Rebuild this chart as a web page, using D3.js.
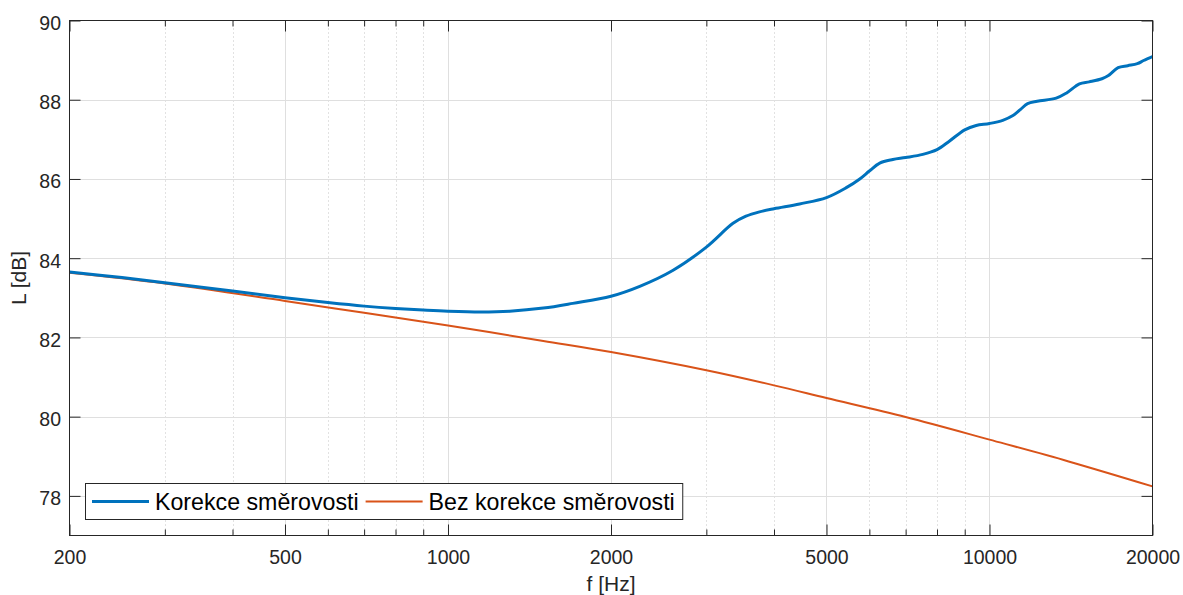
<!DOCTYPE html>
<html>
<head>
<meta charset="utf-8">
<script src="https://cdn.jsdelivr.net/npm/d3@7"></script>
<style>
  html, body { margin: 0; padding: 0; background: #fff; overflow: hidden; }
  svg { display: block; font-family: "Liberation Sans", Arial, Helvetica, sans-serif; }
</style>
</head>
<body>
<svg id="chart" width="1183" height="595"></svg>
<script>
// Sound level vs. frequency, with and without directivity correction
const freqKorekce = [200, 250, 300, 400, 500, 600, 700, 800, 900, 1000, 1150, 1300, 1500, 1700,
  2000, 2260, 2600, 3000, 3360, 3550, 3760, 4000, 4460, 5000, 5440, 5760, 6000, 6270, 6630,
  7000, 7530, 8000, 8440, 9000, 9450, 10000, 10580, 11050, 11400, 11760, 12250, 13280, 13880,
  14660, 15280, 16130, 16580, 17280, 18000, 18750, 19260, 20000];
const levelKorekce = [83.65, 83.51, 83.38, 83.17, 83.00, 82.88, 82.79, 82.73, 82.69, 82.66, 82.64,
  82.66, 82.74, 82.86, 83.04, 83.29, 83.69, 84.28, 84.88, 85.06, 85.17, 85.25, 85.37, 85.53,
  85.78, 86.00, 86.20, 86.40, 86.49, 86.54, 86.62, 86.74, 86.96, 87.24, 87.35, 87.40, 87.48,
  87.60, 87.75, 87.90, 87.96, 88.04, 88.17, 88.40, 88.45, 88.53, 88.61, 88.81, 88.86, 88.91,
  88.99, 89.09];

const freqBez = [200, 300, 500, 700, 1000, 1500, 2000, 3000, 4000, 5000, 7000, 10000, 14000, 20000];
const levelBez = [83.63, 83.36, 82.92, 82.62, 82.30, 81.91, 81.63, 81.17, 80.79, 80.47, 79.99, 79.42,
  78.87, 78.24];

const xTickValues = [200, 500, 1000, 2000, 5000, 10000, 20000];
const xMinorValues = [300, 400, 600, 700, 800, 900, 3000, 4000, 6000, 7000, 8000, 9000];
const yTickValues = [78, 80, 82, 84, 86, 88, 90];

const seriesNames = ["Korekce směrovosti", "Bez korekce směrovosti"];
const seriesColors = ["#0072BD", "#D95319"];
const seriesWidths = [3, 2];

const xLabel = "f [Hz]";
const yLabel = "L [dB]";

const svg = d3.select("#chart");
const plotLeft = 69.5, plotRight = 1152.5, plotTop = 20.5, plotBottom = 535.5;
const axisColor = "#262626";

const x = d3.scaleLog().domain([200, 20000]).range([plotLeft, plotRight]);
const y = d3.scaleLinear().domain([77, 90]).range([plotBottom, plotTop]);

// grid: minor (dotted) then major (solid)
const grid = svg.append("g");
grid.selectAll("line.minor").data(xMinorValues).join("line")
  .attr("x1", d => Math.round(x(d)) + 0.5).attr("x2", d => Math.round(x(d)) + 0.5)
  .attr("y1", plotTop).attr("y2", plotBottom)
  .attr("stroke", "#c4c4c4").attr("stroke-width", 1).attr("stroke-dasharray", "1,3");
grid.selectAll("line.mx").data(xTickValues.slice(1, -1)).join("line")
  .attr("x1", d => Math.round(x(d)) + 0.5).attr("x2", d => Math.round(x(d)) + 0.5)
  .attr("y1", plotTop).attr("y2", plotBottom)
  .attr("stroke", "#dfdfdf").attr("stroke-width", 1);
grid.selectAll("line.my").data(yTickValues.slice(0, -1)).join("line")
  .attr("x1", plotLeft).attr("x2", plotRight)
  .attr("y1", d => Math.round(y(d)) + 0.5).attr("y2", d => Math.round(y(d)) + 0.5)
  .attr("stroke", "#dfdfdf").attr("stroke-width", 1);

// axes through d3 (ticks drawn inward, no domain path)
const majorLen = 11, minorLen = 6;
function styleAxis(g) {
  g.select(".domain").remove();
  g.selectAll(".tick line").attr("stroke", axisColor);
}
const fmt = d3.format("d");
const xBottom = svg.append("g").attr("transform", `translate(0,${plotBottom})`)
  .call(d3.axisBottom(x).tickValues(xTickValues).tickFormat(fmt).tickSizeInner(-majorLen).tickSizeOuter(0).tickPadding(0))
  .call(styleAxis);
xBottom.selectAll(".tick text").attr("fill", axisColor).attr("font-size", 19.5)
  .attr("y", 28.5).attr("dy", 0);
svg.append("g").attr("transform", `translate(0,${plotBottom})`)
  .call(d3.axisBottom(x).tickValues(xMinorValues).tickFormat("").tickSizeInner(-minorLen).tickSizeOuter(0))
  .call(styleAxis);
svg.append("g").attr("transform", `translate(0,${plotTop})`)
  .call(d3.axisTop(x).tickValues(xTickValues).tickFormat("").tickSizeInner(-majorLen).tickSizeOuter(0))
  .call(styleAxis);
svg.append("g").attr("transform", `translate(0,${plotTop})`)
  .call(d3.axisTop(x).tickValues(xMinorValues).tickFormat("").tickSizeInner(-minorLen).tickSizeOuter(0))
  .call(styleAxis);

const yLeft = svg.append("g").attr("transform", `translate(${plotLeft},0)`)
  .call(d3.axisLeft(y).tickValues(yTickValues).tickFormat(fmt).tickSizeInner(-majorLen).tickSizeOuter(0).tickPadding(0))
  .call(styleAxis);
yLeft.selectAll(".tick text").attr("fill", axisColor).attr("font-size", 19.5)
  .attr("x", -8.5).attr("dy", 9).attr("text-anchor", "end");
svg.append("g").attr("transform", `translate(${plotRight},0)`)
  .call(d3.axisRight(y).tickValues(yTickValues).tickFormat("").tickSizeInner(-majorLen).tickSizeOuter(0))
  .call(styleAxis);

// data lines, clipped to the axes box
svg.append("clipPath").attr("id", "plotArea").append("rect")
  .attr("x", plotLeft).attr("y", plotTop - 2).attr("width", plotRight - plotLeft).attr("height", plotBottom - plotTop + 4);
const line = d3.line().x(d => x(d[0])).y(d => y(d[1])).curve(d3.curveCatmullRom.alpha(0.5));
const seriesData = [
  d3.zip(freqKorekce, levelKorekce),
  d3.zip(freqBez, levelBez)
];
const plot = svg.append("g").attr("clip-path", "url(#plotArea)");
[1, 0].forEach(i => {
  plot.append("path").datum(seriesData[i])
    .attr("d", line).attr("fill", "none")
    .attr("stroke", seriesColors[i]).attr("stroke-width", seriesWidths[i])
    .attr("stroke-linejoin", "round");
});

// axes box
svg.append("rect").attr("x", plotLeft).attr("y", plotTop).attr("width", plotRight - plotLeft).attr("height", plotBottom - plotTop)
  .attr("fill", "none").attr("stroke", axisColor).attr("stroke-width", 1);

// axis titles
svg.append("text").attr("x", (plotLeft + plotRight) / 2).attr("y", 591)
  .attr("text-anchor", "middle").attr("font-size", 21).attr("fill", axisColor).text(xLabel);
svg.append("text").attr("transform", `translate(26,${(plotTop + plotBottom) / 2}) rotate(-90)`)
  .attr("text-anchor", "middle").attr("font-size", 21).attr("fill", axisColor).text(yLabel);

// legend
const legend = svg.append("g");
const legBox = legend.append("rect").attr("fill", "#fff").attr("stroke", axisColor).attr("stroke-width", 1);
const legLeft = 85.5, legTop = 483.5, legHeight = 36, legMid = legTop + legHeight / 2;
let cursor = legLeft + 6.5;
seriesNames.forEach((name, i) => {
  legend.append("line").attr("x1", cursor).attr("x2", cursor + 57)
    .attr("y1", legMid).attr("y2", legMid)
    .attr("stroke", seriesColors[i]).attr("stroke-width", seriesWidths[i]);
  cursor += 63;
  const t = legend.append("text").attr("x", cursor).attr("y", legMid + 8)
    .attr("font-size", 23.2).attr("fill", "#000").text(name);
  cursor += t.node().getComputedTextLength() + 7;
});
legBox.attr("x", legLeft).attr("y", legTop).attr("width", cursor - legLeft + 1).attr("height", legHeight);
</script>
</body>
</html>
